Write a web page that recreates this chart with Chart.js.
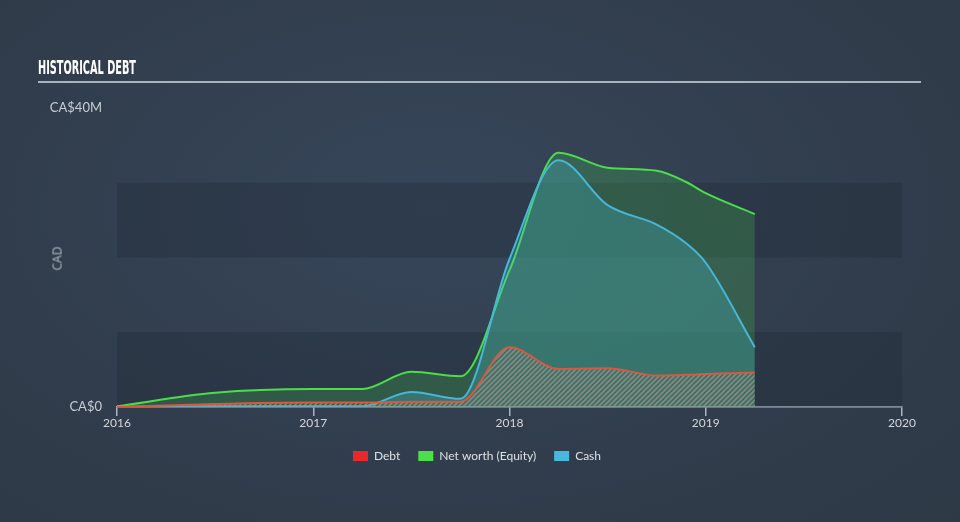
<!DOCTYPE html>
<html>
<head>
<meta charset="utf-8">
<script src="https://cdn.jsdelivr.net/npm/chart.js@4.4.1/dist/chart.umd.min.js"></script>
<style>
    body { margin: 0; background: #323f4f; }
    #wrap { position: relative; width: 960px; height: 522px; background: radial-gradient(ellipse at 45% 40%, #36465a 0%, #313d4c 60%, #2e3946 100%); overflow: hidden; }
    #title { position: absolute; left: 38px; top: 56px; color: #fff; font: bold 19px "Liberation Sans Narrow", "DejaVu Sans Condensed", sans-serif; transform: scaleX(0.57); transform-origin: left top; white-space: nowrap; }
    #rule { position: absolute; left: 38px; top: 81px; width: 883px; height: 2px; background: #a9b3bd; }
    #cad { position: absolute; left: 42px; top: 250px; width: 30px; text-align: center; color: #b3bac2; font: 400 12px "Open Sans", sans-serif; transform: rotate(-90deg); }
    canvas { position: absolute; left: 0; top: 0; }
</style>
</head>
<body>
<div id="wrap">
    <canvas id="chart" width="960" height="522"></canvas>
    <div id="title">HISTORICAL DEBT</div>
    <div id="rule"></div>
    <div id="cad">CAD</div>
</div>
<script>
// values in CA$ millions, x in fractional years
const years    = [2016.0, 2016.5, 2017.0, 2017.25, 2017.5, 2017.75, 2018.0, 2018.25, 2018.5, 2018.75, 2018.9, 2019.0, 2019.25];
const debt     = [0.0, 0.4, 0.6, 0.6, 0.7, 0.7, 8.0, 5.1, 5.2, 4.2, 4.3, 4.4, 4.6];
const netWorth = [0.1, 1.9, 2.4, 2.4, 4.7, 4.1, 18.3, 34.0, 32.0, 31.6, 30.1, 28.6, 25.8];
const cash     = [0.05, 0.1, 0.1, 0.1, 2.0, 1.1, 19.8, 33.0, 27.0, 24.4, 21.9, 19.3, 8.0];
const seriesNames = ['Debt', 'Net worth (Equity)', 'Cash'];
const legendColors = ['#e8282b', '#4be04b', '#46b9dc'];
const xTicks = [2016, 2017, 2018, 2019, 2020];
const yTicks = [0, 40];

function hatch() {
    const c = document.createElement('canvas');
    c.width = 5; c.height = 5;
    const g = c.getContext('2d');
    g.strokeStyle = 'rgba(175,140,130,0.75)';
    g.lineWidth = 1.6;
    g.beginPath();
    g.moveTo(0, 5); g.lineTo(5, 0);
    g.moveTo(-1, 1); g.lineTo(1, -1);
    g.moveTo(4, 6); g.lineTo(6, 4);
    g.stroke();
    return g.createPattern(c, 'repeat');
}

const pts = arr => years.map((x, i) => ({ x: x, y: arr[i] }));

const bands = {
    id: 'bands',
    beforeDatasetsDraw(chart) {
        const { ctx, chartArea: a, scales: { y } } = chart;
        ctx.save();
        ctx.fillStyle = 'rgba(30,40,52,0.32)';
        [[0, 10], [20, 30]].forEach(b => {
            const top = y.getPixelForValue(b[1]);
            const bot = y.getPixelForValue(b[0]);
            ctx.fillRect(a.left, top, a.right - a.left, bot - top);
        });
        ctx.restore();
    }
};

new Chart(document.getElementById('chart').getContext('2d'), {
    type: 'line',
    data: {
        datasets: [
            { label: seriesNames[0], data: pts(debt), borderColor: '#d65a40', backgroundColor: hatch(), fill: 'origin', order: 0 },
            { label: seriesNames[1], data: pts(netWorth), borderColor: '#4cdc4c', backgroundColor: 'rgba(72,200,80,0.24)', fill: 'origin', order: 2 },
            { label: seriesNames[2], data: pts(cash), borderColor: '#47b6d8', backgroundColor: 'rgba(70,188,205,0.28)', fill: 'origin', order: 1 }
        ]
    },
    options: {
        responsive: false,
        animation: false,
        layout: { padding: { left: 52, right: 58, top: 108, bottom: 50 } },
        elements: {
            point: { radius: 0 },
            line: { borderWidth: 2, cubicInterpolationMode: 'monotone' }
        },
        plugins: {
            tooltip: { enabled: false },
            legend: {
                position: 'bottom',
                labels: {
                    color: '#dde1e6',
                    font: { family: 'Lato', size: 12 },
                    boxWidth: 15,
                    boxHeight: 10,
                    padding: 18,
                    sort: (a, b) => a.datasetIndex - b.datasetIndex,
                    generateLabels: chart => {
                        const items = Chart.defaults.plugins.legend.labels.generateLabels(chart);
                        items.forEach(it => {
                            it.fillStyle = legendColors[it.datasetIndex];
                            it.strokeStyle = legendColors[it.datasetIndex];
                            it.lineWidth = 0;
                        });
                        return items;
                    }
                }
            }
        },
        scales: {
            x: {
                type: 'linear',
                min: 2016,
                max: 2020,
                afterFit: s => { s.height = 25; },
                afterBuildTicks: s => { s.ticks = xTicks.map(v => ({ value: v })); },
                ticks: { color: '#d3d7dc', font: { family: 'Lato', size: 12 }, padding: 0, maxRotation: 0, callback: v => String(v) },
                grid: { drawOnChartArea: false, drawTicks: true, tickLength: 9, color: '#a9b4c0', lineWidth: 1.5 },
                border: { display: true, color: '#a9b4c0', width: 1.5 }
            },
            y: {
                min: 0,
                max: 40,
                // labels stick out past the narrow axis box, so skip the label clip
                afterFit: s => { s.width = 65; s._computeLabelArea = () => null; },
                afterBuildTicks: s => { s.ticks = yTicks.map(v => ({ value: v })); },
                ticks: { color: '#c8cdd3', font: { family: 'Lato', size: 13 }, padding: 15, callback: v => v === 0 ? 'CA$0' : 'CA$' + v + 'M' },
                grid: { display: false, drawTicks: false },
                border: { display: false }
            }
        }
    },
    plugins: [bands]
});
</script>
</body>
</html>
